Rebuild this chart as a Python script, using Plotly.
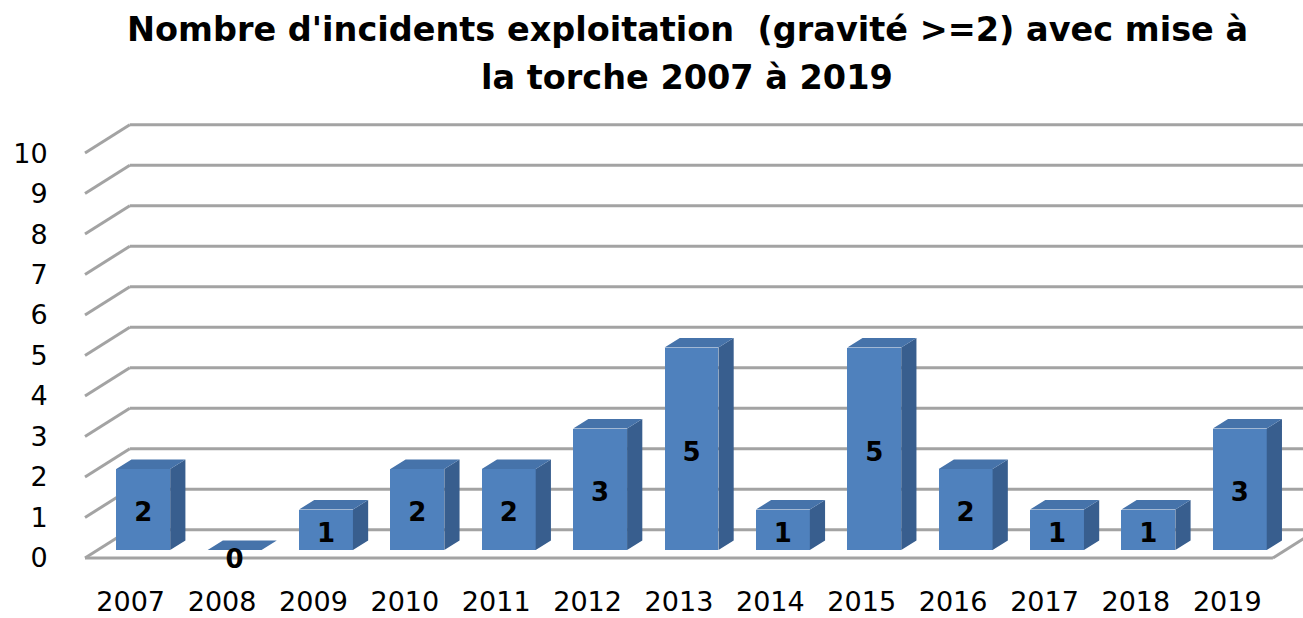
import plotly.graph_objects as go

# ---- data ----
years = ["2007", "2008", "2009", "2010", "2011", "2012", "2013",
         "2014", "2015", "2016", "2017", "2018", "2019"]
incidents = [2, 0, 1, 2, 2, 3, 5, 1, 5, 2, 1, 1, 3]
y_ticks = list(range(0, 11))
title_line1 = "Nombre d'incidents exploitation  (gravité >=2) avec mise à"
title_line2 = "la torche 2007 à 2019"

# ---- pseudo-3D geometry (in axis units) ----
DX, DY = 0.49, 0.70          # full depth offset of the chart box
F0, F1 = 0.28, 0.62          # depth of bar front / back faces
BW = 0.59                    # bar width
LABEL_SHIFT = -0.13          # data labels sit slightly below face centre
n = len(years)
pos = list(range(n))

FONT = "DejaVu Sans"
FRONT = "#4F81BD"
TOP = "#4673AA"
SIDE = "#385E8E"
GRID = "#A3A3A3"

fig = go.Figure()

# front faces of bars
fig.add_trace(go.Bar(
    x=[p + F0 * DX for p in pos],
    y=incidents,
    base=[F0 * DY] * n,
    width=BW,
    marker=dict(color=FRONT, line=dict(width=0)),
    hoverinfo="skip",
    showlegend=False,
))

# top and side faces
ddx, ddy = (F1 - F0) * DX, (F1 - F0) * DY
tx, ty, sx, sy = [], [], [], []
for p, v in zip(pos, incidents):
    xl = p + F0 * DX - BW / 2
    xr = p + F0 * DX + BW / 2
    b = F0 * DY
    tx += [xl, xr, xr + ddx, xl + ddx, xl, None]
    ty += [v + b, v + b, v + b + ddy, v + b + ddy, v + b, None]
    if v > 0:
        sx += [xr, xr, xr + ddx, xr + ddx, xr, None]
        sy += [b, v + b, v + b + ddy, b + ddy, b, None]
fig.add_trace(go.Scatter(x=sx, y=sy, mode="lines", fill="toself",
                         fillcolor=SIDE, line=dict(width=0, color=SIDE),
                         hoverinfo="skip", showlegend=False))
fig.add_trace(go.Scatter(x=tx, y=ty, mode="lines", fill="toself",
                         fillcolor=TOP, line=dict(width=0, color=TOP),
                         hoverinfo="skip", showlegend=False))

# data labels
fig.add_trace(go.Scatter(
    x=[p + F0 * DX for p in pos],
    y=[v / 2 + F0 * DY + LABEL_SHIFT - (0.15 if v == 0 else 0) for v in incidents],
    mode="text",
    text=[str(v) for v in incidents],
    textfont=dict(family=FONT, size=26, color="black", weight="bold"),
    hoverinfo="skip", showlegend=False,
))

# walls / gridlines
shapes = []
x0, x1 = -0.5, n - 0.5
for v in y_ticks:
    shapes.append(dict(type="line", xref="x", yref="y", layer="below",
                       x0=x0 + DX, y0=v + DY, x1=x1 + DX + 1, y1=v + DY,
                       line=dict(color=GRID, width=3)))
    shapes.append(dict(type="line", xref="x", yref="y", layer="below",
                       x0=x0, y0=v, x1=x0 + DX, y1=v + DY,
                       line=dict(color=GRID, width=3)))
# floor front edge and right edge
shapes.append(dict(type="line", xref="x", yref="y", layer="below",
                   x0=x0, y0=0, x1=x1, y1=0, line=dict(color=GRID, width=3)))
shapes.append(dict(type="line", xref="x", yref="y", layer="below",
                   x0=x1, y0=0, x1=x1 + DX, y1=DY, line=dict(color=GRID, width=3)))

L, R, T, B = 58, 0, 115, 48
W, H = 1303, 618
kx = 91.38
xr_left = x0 - (85 - L) / kx
xr_right = xr_left + (W - L - R) / kx
PH = H - T - B

fig.update_layout(
    width=W, height=H,
    margin=dict(l=L, r=R, t=T, b=B, autoexpand=False),
    paper_bgcolor="white", plot_bgcolor="white",
    shapes=shapes,
    bargap=0,
    xaxis=dict(range=[xr_left, xr_right], tickmode="array", tickvals=pos,
               ticktext=years, showgrid=False, zeroline=False, showline=False,
               ticks="outside", ticklen=8, tickcolor="rgba(0,0,0,0)",
               tickfont=dict(family=FONT, size=27, color="black"),
               automargin=False, fixedrange=True),
    yaxis=dict(range=[-0.296, 10.94], tickmode="array", tickvals=y_ticks,
               showgrid=False, zeroline=False, showline=False,
               ticks="outside", ticklen=4, tickcolor="rgba(0,0,0,0)",
               tickfont=dict(family=FONT, size=27, color="black"),
               automargin=False, fixedrange=True),
    annotations=[
        dict(text=title_line1, xref="paper", yref="paper",
             x=(687 - L) / (W - L - R), y=(H - B - 29) / PH,
             xanchor="center", yanchor="middle", showarrow=False,
             font=dict(family=FONT, size=33.5, color="black", weight="bold")),
        dict(text=title_line2, xref="paper", yref="paper",
             x=(687 - L) / (W - L - R), y=(H - B - 77) / PH,
             xanchor="center", yanchor="middle", showarrow=False,
             font=dict(family=FONT, size=33.5, color="black", weight="bold")),
    ],
)

fig.write_html("out.html", config={"displayModeBar": False},
               post_script="document.body.style.margin='0';")
